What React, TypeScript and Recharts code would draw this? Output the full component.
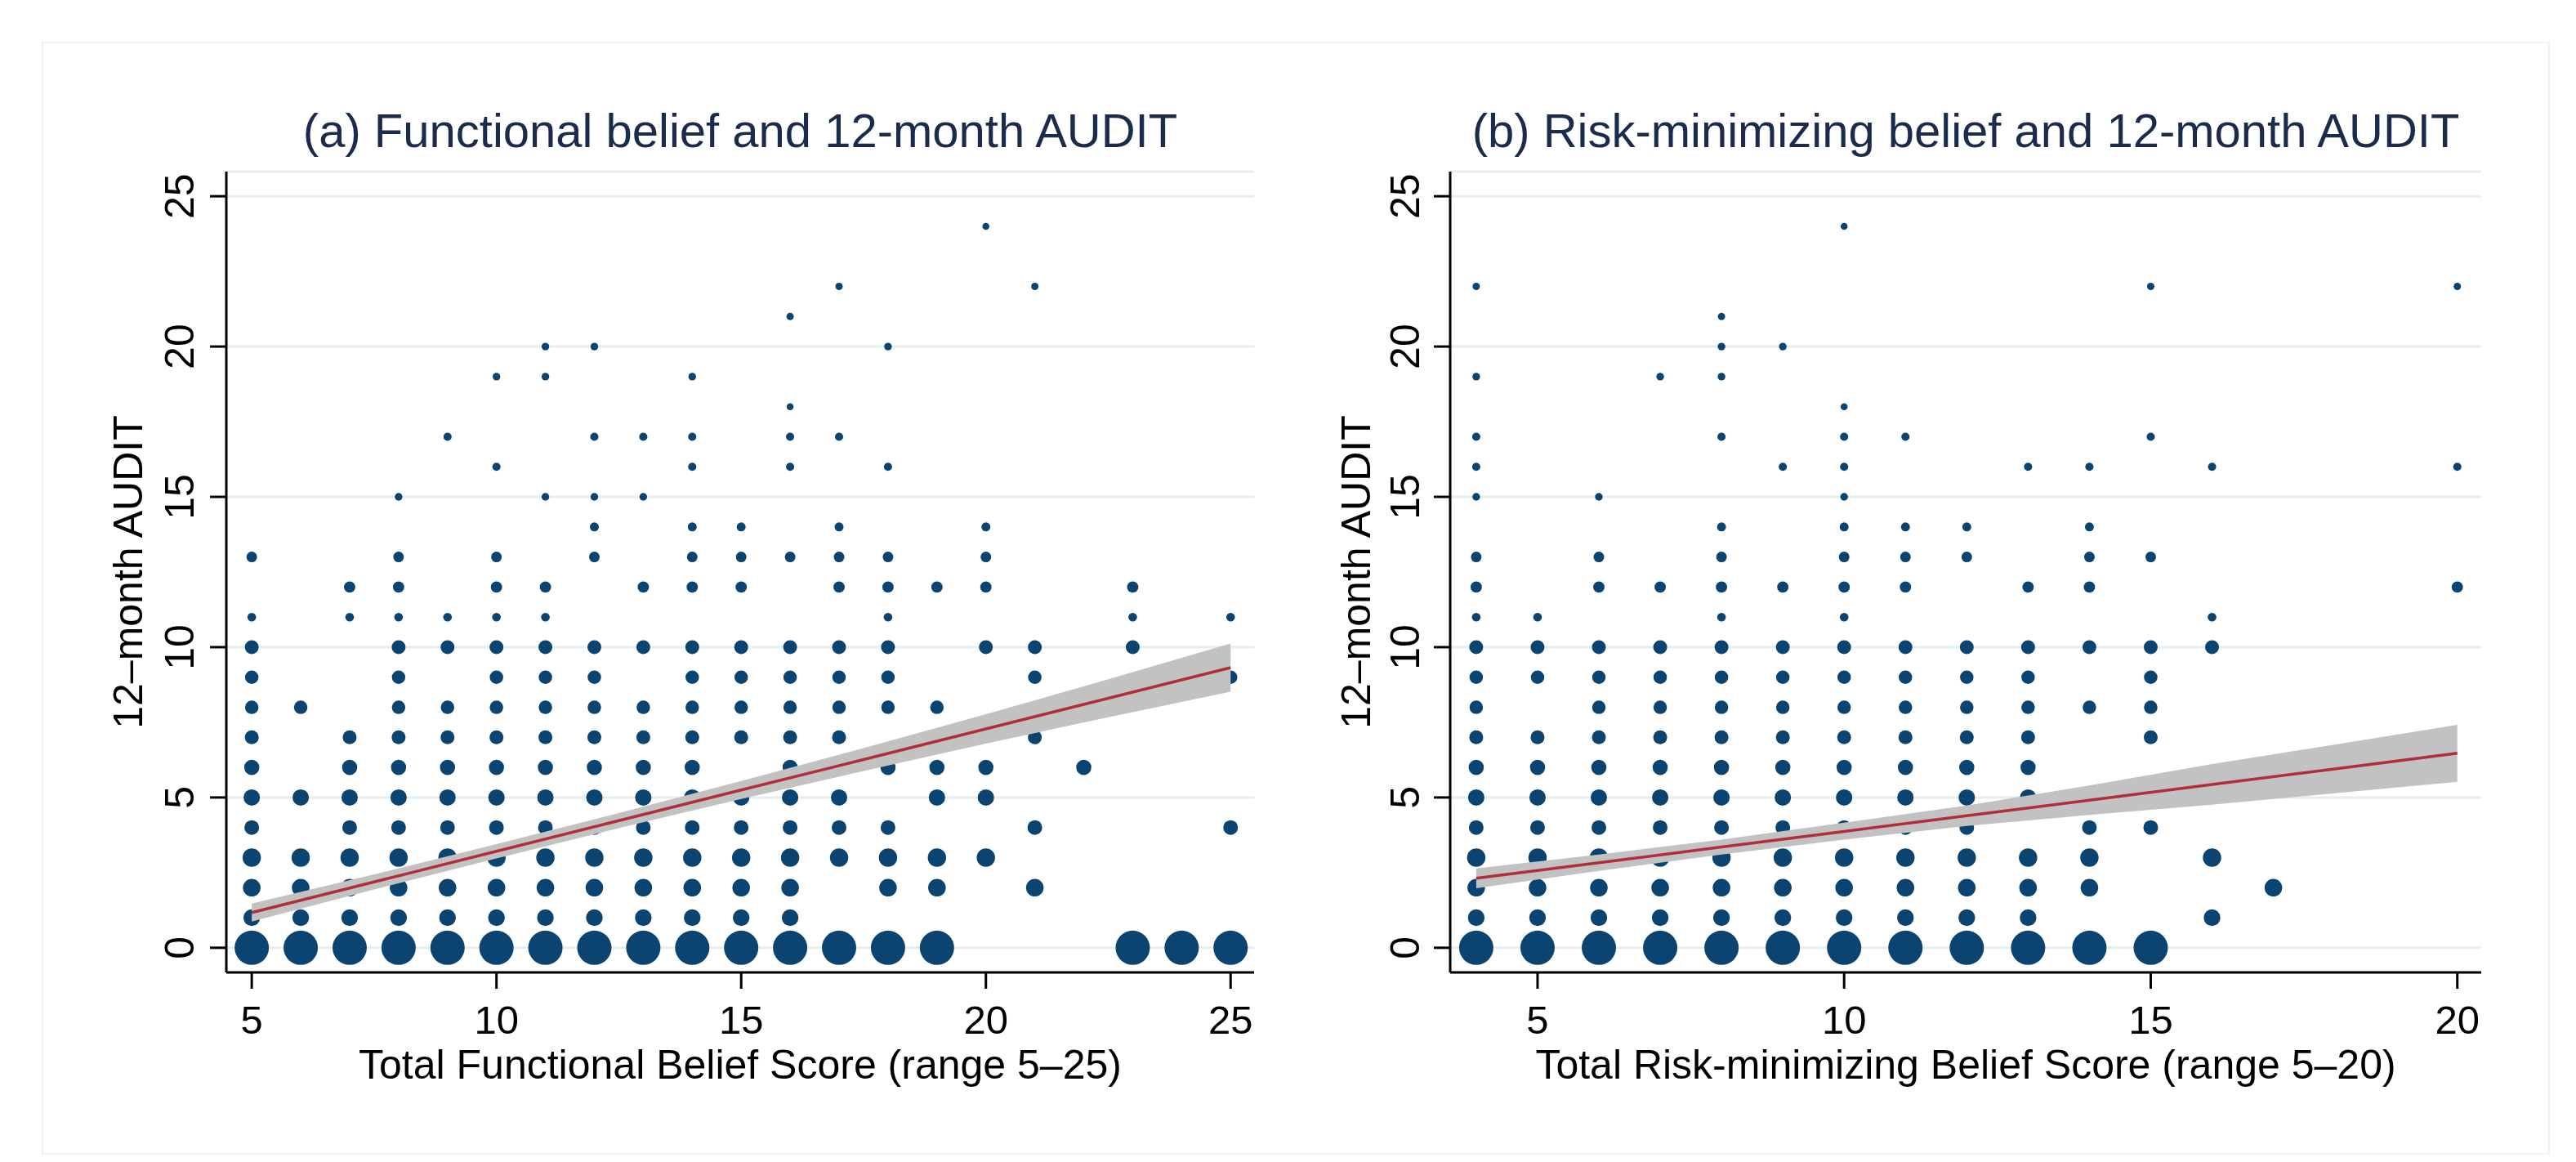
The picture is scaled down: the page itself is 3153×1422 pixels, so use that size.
import React from 'react';
import { ComposedChart, Scatter, Area, Line, XAxis, YAxis, ZAxis, CartesianGrid } from 'recharts';

const FONT = '"Liberation Sans", Arial, Helvetica, sans-serif';
const MARKER = '#0b4470';
const FIT_RED = '#b02f3b';
const BAND = '#c2c2c2';
const GRID = '#e6eef0';
const TITLE_COLOR = '#1a2b4c';

// marker weight (area) for each 12-month AUDIT score 0..24
const auditMarkerWeight = [22, 5.2, 5.8, 6.3, 4.0, 5.0, 4.3, 3.6, 3.4, 3.4, 3.6, 1.4, 2.4, 2.1, 1.5, 1.1, 1.25, 1.25, 0.9, 1.1, 1.1, 1.0, 1.0, 1.0, 0.9];

// (a) Functional belief score and observed AUDIT values
const functionalScores = [5, 6, 7, 8, 9, 10, 11, 12, 13, 14, 15, 16, 17, 18, 19, 20, 21, 22, 23, 24, 25];
const functionalAudit = [
  [0, 1, 2, 3, 4, 5, 6, 7, 8, 9, 10, 11, 13],
  [0, 1, 2, 3, 5, 8],
  [0, 1, 2, 3, 4, 5, 6, 7, 11, 12],
  [0, 1, 2, 3, 4, 5, 6, 7, 8, 9, 10, 11, 12, 13, 15],
  [0, 1, 2, 3, 4, 5, 6, 7, 8, 10, 11, 17],
  [0, 1, 2, 3, 4, 5, 6, 7, 8, 9, 10, 11, 12, 13, 16, 19],
  [0, 1, 2, 3, 4, 5, 6, 7, 8, 9, 10, 11, 12, 15, 19, 20],
  [0, 1, 2, 3, 4, 5, 6, 7, 8, 9, 10, 13, 14, 15, 17, 20],
  [0, 1, 2, 3, 4, 5, 6, 7, 8, 10, 12, 15, 17],
  [0, 1, 2, 3, 4, 5, 6, 7, 8, 9, 10, 12, 13, 14, 16, 17, 19],
  [0, 1, 2, 3, 4, 5, 7, 8, 9, 10, 12, 13, 14],
  [0, 1, 2, 3, 4, 5, 6, 7, 8, 9, 10, 13, 16, 17, 18, 21],
  [0, 3, 4, 5, 7, 8, 9, 10, 12, 13, 14, 17, 22],
  [0, 2, 3, 4, 6, 8, 9, 10, 11, 12, 13, 16, 20],
  [0, 2, 3, 5, 6, 8, 12],
  [3, 5, 6, 10, 12, 13, 14, 24],
  [2, 4, 7, 9, 10, 22],
  [6],
  [0, 10, 11, 12],
  [0],
  [0, 4, 9, 11],
];
const functionalFitX = [5, 7.5, 10, 12.5, 15, 17.5, 20, 22.5, 25];
const functionalFit = [1.17, 2.19, 3.21, 4.23, 5.25, 6.26, 7.28, 8.3, 9.32];
const functionalLow = [0.87, 1.94, 2.97, 3.98, 4.95, 5.88, 6.79, 7.67, 8.52];
const functionalHigh = [1.47, 2.44, 3.45, 4.48, 5.55, 6.64, 7.77, 8.93, 10.12];

// (b) Risk-minimizing belief score and observed AUDIT values
const riskScores = [4, 5, 6, 7, 8, 9, 10, 11, 12, 13, 14, 15, 16, 17, 20];
const riskAudit = [
  [0, 1, 2, 3, 4, 5, 6, 7, 8, 9, 10, 11, 12, 13, 15, 16, 17, 19, 22],
  [0, 1, 2, 3, 4, 5, 6, 7, 9, 10, 11],
  [0, 1, 2, 3, 4, 5, 6, 7, 8, 9, 10, 12, 13, 15],
  [0, 1, 2, 3, 4, 5, 6, 7, 8, 9, 10, 12, 19],
  [0, 1, 2, 3, 4, 5, 6, 7, 8, 9, 10, 11, 12, 13, 14, 17, 19, 20, 21],
  [0, 1, 2, 3, 4, 5, 6, 7, 8, 9, 10, 12, 16, 20],
  [0, 1, 2, 3, 4, 5, 6, 7, 8, 9, 10, 11, 12, 13, 14, 15, 16, 17, 18, 24],
  [0, 1, 2, 3, 4, 5, 6, 7, 8, 9, 10, 12, 13, 14, 17],
  [0, 1, 2, 3, 4, 5, 6, 7, 8, 9, 10, 13, 14],
  [0, 1, 2, 3, 5, 6, 7, 8, 9, 10, 12, 16],
  [0, 2, 3, 4, 8, 10, 12, 13, 14, 16],
  [0, 4, 7, 8, 9, 10, 13, 17, 22],
  [1, 3, 10, 11, 16],
  [2],
  [12, 16, 22],
];
const riskFitX = [4, 6, 8, 10, 12, 14, 16, 18, 20];
const riskFit = [2.31, 2.83, 3.35, 3.87, 4.39, 4.91, 5.43, 5.95, 6.47];
const riskLow = [1.98, 2.56, 3.1, 3.6, 4.05, 4.42, 4.76, 5.14, 5.52];
const riskHigh = [2.64, 3.1, 3.6, 4.16, 4.73, 5.4, 6.11, 6.76, 7.42];

const yTicks = [0, 5, 10, 15, 20, 25];
const functionalTicks = [5, 10, 15, 20, 25];
const riskTicks = [5, 10, 15, 20];

const buildPoints = (scores: number[], audit: number[][]) =>
  scores.flatMap((s, i) => audit[i].map((y) => ({ x: s, y, w: auditMarkerWeight[y] })));

const buildFit = (xs: number[], fit: number[], low: number[], high: number[]) =>
  xs.map((x, i) => ({ x, fit: fit[i], band: [low[i], high[i]] }));

const functionalPoints = buildPoints(functionalScores, functionalAudit);
const riskPoints = buildPoints(riskScores, riskAudit);
const functionalFitData = buildFit(functionalFitX, functionalFit, functionalLow, functionalHigh);
const riskFitData = buildFit(riskFitX, riskFit, riskLow, riskHigh);

type PanelProps = {
  left: number;
  width: number;
  yAxisWidth: number;
  marginRight: number;
  xDomain: [number, number];
  xTicks: number[];
  points: { x: number; y: number; w: number }[];
  fitData: { x: number; fit: number; band: number[] }[];
  tickGap: number;
};

function Panel(p: PanelProps) {
  const xTick = (props: any) => (
    <text x={props.x} y={props.y + 55} textAnchor="middle" fontSize={49} fontFamily={FONT} fill="#000">
      {props.payload.value}
    </text>
  );
  const yTick = (props: any) => {
    const bx = props.x - p.tickGap;
    return (
      <text
        x={bx}
        y={props.y}
        transform={`rotate(-90 ${bx} ${props.y})`}
        textAnchor="middle"
        fontSize={50}
        fontFamily={FONT}
        fill="#000"
      >
        {props.payload.value}
      </text>
    );
  };
  return (
    <div style={{ position: 'absolute', left: p.left, top: 0, width: p.width, height: 1422 }}>
      <ComposedChart
        width={p.width}
        height={1422}
        margin={{ top: 210, right: p.marginRight, bottom: 32, left: 0 }}
      >
        <CartesianGrid horizontal vertical={false} stroke={GRID} strokeWidth={3} />
        <XAxis
          type="number"
          dataKey="x"
          domain={p.xDomain}
          ticks={p.xTicks}
          interval={0}
          allowDataOverflow
          height={200}
          tickSize={20}
          tickMargin={0}
          axisLine={{ stroke: '#000', strokeWidth: 3 }}
          tickLine={{ stroke: '#000', strokeWidth: 3 }}
          tick={xTick}
        />
        <YAxis
          type="number"
          dataKey="y"
          domain={[-0.82, 25.82]}
          ticks={yTicks}
          interval={0}
          allowDataOverflow
          width={p.yAxisWidth}
          tickSize={20}
          tickMargin={0}
          axisLine={{ stroke: '#000', strokeWidth: 3 }}
          tickLine={{ stroke: '#000', strokeWidth: 3 }}
          tick={yTick}
        />
        <ZAxis type="number" dataKey="w" domain={[0, 22]} range={[0, 1385]} />
        <Scatter data={p.points} fill={MARKER} isAnimationActive={false} zIndex={50} />
        <Area
          data={p.fitData}
          dataKey="band"
          type="linear"
          stroke="none"
          fill={BAND}
          fillOpacity={1}
          isAnimationActive={false}
          dot={false}
          activeDot={false}
        />
        <Line
          data={p.fitData}
          dataKey="fit"
          type="linear"
          stroke={FIT_RED}
          strokeWidth={3.5}
          dot={false}
          activeDot={false}
          isAnimationActive={false}
        />
      </ComposedChart>
    </div>
  );
}

export default function App() {
  return (
    <div
      style={{
        position: 'absolute',
        left: 0,
        top: 0,
        width: 3153,
        height: 1422,
        background: '#ffffff',
        overflow: 'hidden',
        fontFamily: FONT,
      }}
    >
      <div
        style={{
          position: 'absolute',
          left: 51,
          top: 51,
          width: 3121 - 51,
          height: 1413 - 51,
          border: '2px solid #edf3f4',
          boxSizing: 'border-box',
        }}
      />
      <Panel
        left={0}
        width={1560}
        yAxisWidth={277}
        marginRight={25}
        xDomain={[4.48, 25.48]}
        xTicks={functionalTicks}
        points={functionalPoints}
        fitData={functionalFitData}
        tickGap={20}
      />
      <Panel
        left={1560}
        width={1593}
        yAxisWidth={215}
        marginRight={116}
        xDomain={[3.575, 20.39]}
        xTicks={riskTicks}
        points={riskPoints}
        fitData={riskFitData}
        tickGap={18}
      />
      <svg
        width={3153}
        height={1422}
        style={{ position: 'absolute', left: 0, top: 0, pointerEvents: 'none' }}
      >
        <text x={906} y={180} textAnchor="middle" fontSize={58} fontFamily={FONT} fill={TITLE_COLOR}>
          (a) Functional belief and 12-month AUDIT
        </text>
        <text x={2406} y={180} textAnchor="middle" fontSize={58} fontFamily={FONT} fill={TITLE_COLOR}>
          (b) Risk-minimizing belief and 12-month AUDIT
        </text>
        <text x={906} y={1320} textAnchor="middle" fontSize={50} fontFamily={FONT} fill="#000">
          Total Functional Belief Score (range 5–25)
        </text>
        <text x={2406} y={1320} textAnchor="middle" fontSize={50} fontFamily={FONT} fill="#000">
          Total Risk-minimizing Belief Score (range 5–20)
        </text>
        <text
          x={174}
          y={700}
          transform="rotate(-90 174 700)"
          textAnchor="middle"
          fontSize={50}
          fontFamily={FONT}
          fill="#000"
        >
          12–month AUDIT
        </text>
        <text
          x={1677}
          y={700}
          transform="rotate(-90 1677 700)"
          textAnchor="middle"
          fontSize={50}
          fontFamily={FONT}
          fill="#000"
        >
          12–month AUDIT
        </text>
      </svg>
    </div>
  );
}
